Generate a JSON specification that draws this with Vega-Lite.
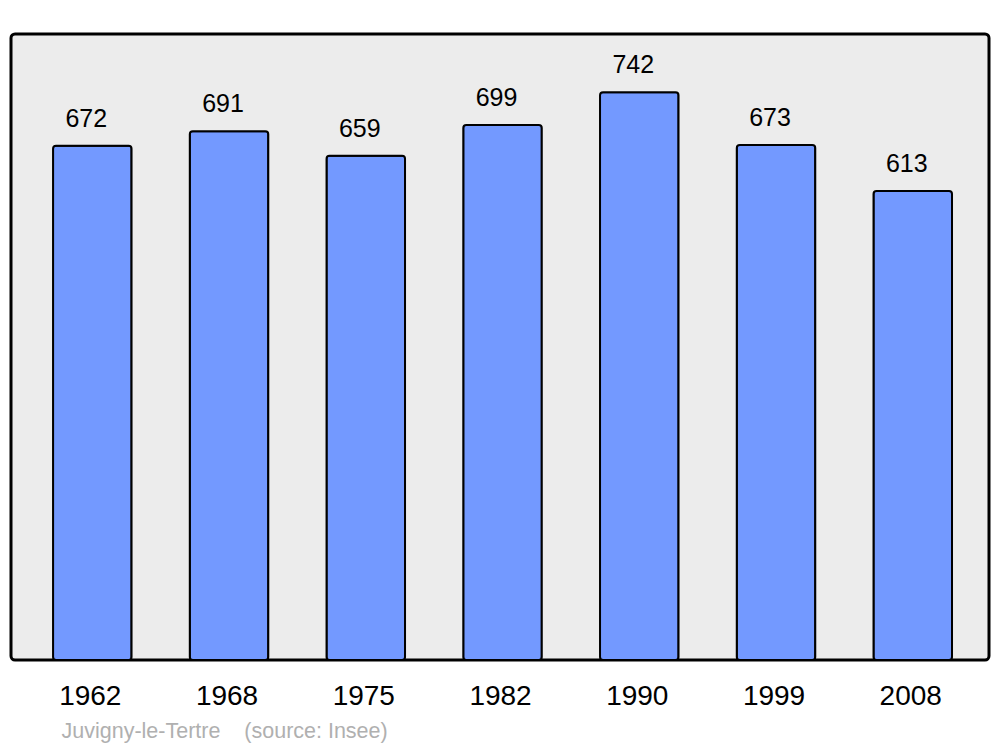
{
  "$schema": "https://vega.github.io/schema/vega-lite/v6.json",
  "autosize": {"type": "none"},
  "padding": {"left": 11, "top": 34, "right": 11, "bottom": 87},
  "width": 978,
  "height": 626,
  "background": "white",
  "config": {
    "font": "Liberation Sans",
    "view": {"fill": "#ececec", "stroke": "black", "strokeWidth": 3, "cornerRadius": 4}
  },
  "data": {
    "values": [
      {"year": "1962", "pop": 672},
      {"year": "1968", "pop": 691},
      {"year": "1975", "pop": 659},
      {"year": "1982", "pop": 699},
      {"year": "1990", "pop": 742},
      {"year": "1999", "pop": 673},
      {"year": "2008", "pop": 613}
    ]
  },
  "encoding": {
    "x": {
      "field": "year",
      "type": "ordinal",
      "sort": null,
      "scale": {"paddingInner": 0.426, "paddingOuter": 0.289, "align": 0.532},
      "axis": {
        "title": "Juvigny-le-Tertre\u00a0\u00a0\u00a0\u00a0(source: Insee)",
        "titleFont": "Liberation Sans",
        "titleFontSize": 21.5,
        "titleFontWeight": "normal",
        "titleColor": "#b0b0b0",
        "titleAnchor": "start",
        "titleAlign": "left",
        "titleBaseline": "alphabetic",
        "titleX": 50,
        "titleY": 77,
        "labelFontSize": 28,
        "labelColor": "black",
        "labelAngle": 0,
        "labelPadding": 22,
        "labelOffset": -2,
        "ticks": false,
        "domain": false,
        "grid": false
      }
    },
    "y": {
      "field": "pop",
      "type": "quantitative",
      "scale": {"domain": [0, 818], "nice": false},
      "axis": null
    }
  },
  "layer": [
    {
      "mark": {"type": "bar", "fill": "#7399ff", "stroke": "black", "strokeWidth": 2, "cornerRadius": 3}
    },
    {
      "mark": {"type": "text", "fontSize": 25, "color": "black", "baseline": "alphabetic", "dy": -19, "dx": -6},
      "encoding": {"text": {"field": "pop", "type": "quantitative"}}
    }
  ]
}
